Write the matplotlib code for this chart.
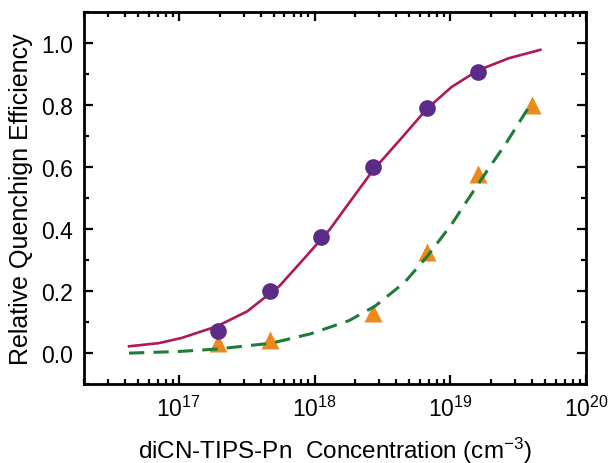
import matplotlib
matplotlib.use("Agg")
import matplotlib.pyplot as plt
from matplotlib.ticker import LogLocator, MultipleLocator

plt.rcParams["font.family"] = ["Liberation Sans", "DejaVu Sans"]
plt.rcParams["mathtext.fontset"] = "custom"
plt.rcParams["mathtext.rm"] = "Liberation Sans"
plt.rcParams["mathtext.default"] = "regular"

# measured points
conc = [1.95e17, 4.7e17, 1.12e18, 2.7e18, 6.7e18, 1.6e19]
qe_circ = [0.07, 0.20, 0.373, 0.60, 0.79, 0.906]
conc_tri = [1.95e17, 4.7e17, 2.7e18, 6.7e18, 1.6e19, 4.0e19]
qe_tri = [0.032, 0.043, 0.13, 0.327, 0.577, 0.80]

# fitted curves
fit1_x = [4.3e16, 7.1e16, 1.05e17, 1.9e17, 3.2e17, 5.5e17, 8.7e17, 1.3e18,
          1.8e18, 2.7e18, 4.3e18, 6.7e18, 1.02e19, 1.6e19, 2.7e19, 4.6e19]
fit1_y = [0.022, 0.032, 0.049, 0.086, 0.135, 0.216, 0.313, 0.40,
          0.485, 0.59, 0.69, 0.787, 0.858, 0.912, 0.951, 0.978]
fit2_x = [4.3e16, 9.8e16, 1.9e17, 4.8e17, 9.3e17, 1.8e18, 2.8e18, 4.6e18,
          6.7e18, 1.02e19, 1.6e19, 2.6e19, 4.0e19]
fit2_y = [0.0, 0.005, 0.013, 0.032, 0.062, 0.105, 0.152, 0.228,
          0.31, 0.415, 0.545, 0.68, 0.81]

fig = plt.figure(figsize=(6.08, 4.64), dpi=100)
ax = fig.add_axes([0.138, 0.170, 0.826, 0.802])

ax.plot(fit1_x, fit1_y, color="#b0185a", lw=1.9, zorder=2)
ax.plot(fit2_x, fit2_y, color="#1d7d38", lw=2.2, ls=(0, (5, 3)), zorder=2)
ax.plot(conc, qe_circ, "o", color="#5a2b87", ms=12, mec="none", zorder=3)
ax.plot(conc_tri, qe_tri, "^", color="#ec8a1e", ms=13, mec="none", zorder=1)

ax.set_xscale("log")
ax.set_xlim(2e16, 1e20)
ax.set_ylim(-0.1, 1.1)
ax.yaxis.set_major_locator(MultipleLocator(0.2))
ax.yaxis.set_minor_locator(MultipleLocator(0.1))
ax.xaxis.set_major_locator(LogLocator(base=10))
ax.xaxis.set_minor_locator(LogLocator(base=10, subs=range(2, 10)))
ax.yaxis.set_major_formatter(plt.FuncFormatter(lambda v, p: f"{v:.1f}"))

for s in ax.spines.values():
    s.set_linewidth(2)
ax.tick_params(which="both", direction="in", top=True, right=True, width=1.6)
ax.tick_params(which="major", length=6.5, labelsize=16.5, pad=8)
ax.tick_params(which="minor", length=3.5)

ax.set_xlabel("diCN-TIPS-Pn  Concentration (cm$^{-3}$)", fontsize=17.5, labelpad=10)
ax.set_ylabel("Relative Quenchign Efficiency", fontsize=18, labelpad=6)

fig.savefig("out.png", dpi=100)
